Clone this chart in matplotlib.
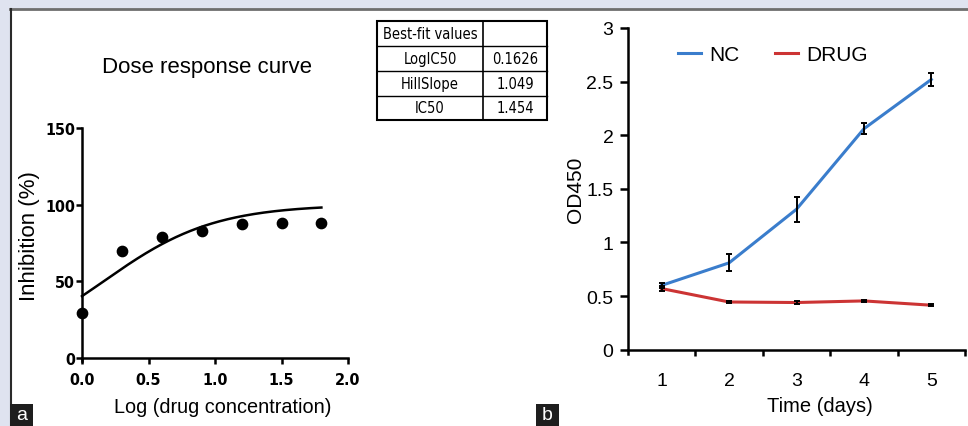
import numpy as np
import matplotlib
matplotlib.use("Agg")
import matplotlib.pyplot as plt
from matplotlib.patches import Rectangle
from matplotlib.lines import Line2D
from matplotlib import font_manager as fm

# ---------------- data ----------------
log_conc = [0.0, 0.3, 0.6, 0.9, 1.2, 1.5, 1.8]
inhibition = [29, 70, 79, 83, 87.5, 87.7, 87.7]
fit_names = ["LogIC50", "HillSlope", "IC50"]
fit_values = ["0.1626", "1.049", "1.454"]
log_ic50 = 0.1626
hill_slope = 1.049
fit_bottom = 0.0
fit_top = 100.0

days = [1, 2, 3, 4, 5]
nc_mean = [0.60, 0.81, 1.31, 2.06, 2.52]
nc_err = [0.02, 0.08, 0.115, 0.05, 0.06]
drug_mean = [0.57, 0.445, 0.44, 0.455, 0.415]
drug_err = [0.02, 0.012, 0.01, 0.01, 0.012]

left_yticks = [0, 50, 100, 150]
left_xticks = [0.0, 0.5, 1.0, 1.5, 2.0]
right_yticks = [0, 0.5, 1, 1.5, 2, 2.5, 3]
right_yticklabels = ["0", "0.5", "1", "1.5", "2", "2.5", "3"]

# ---------------- fonts ----------------
fonts = fm.fontManager.ttflist
names = {f.name for f in fonts}
base = "Liberation Sans" if "Liberation Sans" in names else "DejaVu Sans"
narrow_kw = None
if "Liberation Sans Narrow" in names:
    narrow_kw = dict(fontfamily="Liberation Sans Narrow")
elif any(f.name == "DejaVu Sans" and str(f.stretch) in ("condensed", "semi-condensed", "75", "87")
         for f in fonts):
    narrow_kw = dict(fontfamily="DejaVu Sans", fontstretch="condensed")
plt.rcParams['font.family'] = [base, 'DejaVu Sans']

W, H = 968, 427
fig = plt.figure(figsize=(W / 100, H / 100), dpi=100)
fig.patch.set_facecolor("#dfe3f0")

def fx(px):
    return px / W

def fy(py):
    return (H - py) / H

# white panel with borders
fig.add_artist(Rectangle((fx(10), 0), 1 - fx(10), fy(10), transform=fig.transFigure,
                         facecolor="white", edgecolor="none", zorder=0))
fig.add_artist(Line2D([fx(10), 1], [fy(10), fy(10)], transform=fig.transFigure,
                      color="#6e6e6e", lw=2))
fig.add_artist(Line2D([fx(10.5), fx(10.5)], [0, fy(10)], transform=fig.transFigure,
                      color="#2a2a2a", lw=1.5))

# ---------------- left panel ----------------
ax1 = fig.add_axes([fx(82), fy(362), fx(348) - fx(82), fy(129) - fy(362)])
ax1.set_facecolor("none")
ax1.set_xlim(0, 2.0)
ax1.set_ylim(-2, 150)
ax1.spines['top'].set_visible(False)
ax1.spines['right'].set_visible(False)
ax1.spines['bottom'].set_position(('data', 0))
for s in ('left', 'bottom'):
    ax1.spines[s].set_linewidth(1.8)
    ax1.spines[s].set_color("black")
ax1.set_yticks(left_yticks)
ax1.set_xticks(left_xticks)
ax1.set_xticklabels([f"{v:.1f}" for v in left_xticks])
ax1.tick_params(axis='y', direction='out', length=4, width=1.8, color='black', pad=1)
ax1.tick_params(axis='x', direction='out', length=4, width=1.8, color='black', pad=6)
for lab in ax1.get_xticklabels() + ax1.get_yticklabels():
    lab.set_fontweight('bold')
    if narrow_kw:
        lab.set_fontfamily(narrow_kw["fontfamily"])
        if "fontstretch" in narrow_kw:
            lab.set_fontstretch(narrow_kw["fontstretch"])
        lab.set_fontsize(11.5)
    else:
        lab.set_fontsize(11.5)

xs = np.linspace(0, 1.8, 200)
curve = fit_bottom + (fit_top - fit_bottom) / (1 + 10 ** ((log_ic50 - xs) * hill_slope))
ax1.plot(xs, curve, color='black', lw=1.8, zorder=3, clip_on=False)
ax1.scatter(log_conc, inhibition, s=55, color='black', zorder=4, clip_on=False)

fig.text(fx(30), fy(236), "Inhibition (%)", fontsize=16, ha='center', va='center', rotation=90)
fig.text(fx(207), fy(68), "Dose response curve", fontsize=16, ha='center', va='center')
fig.text(fx(223), fy(408), "Log (drug concentration)", fontsize=14.3, ha='center', va='center')

# table
tx0, tx1, tx2 = 377, 483, 547
row_y = [22, 47, 72, 97, 121]
rows = [("Best-fit values", "")] + list(zip(fit_names, fit_values))
fig.add_artist(Rectangle((fx(tx0), fy(row_y[-1])), fx(tx2) - fx(tx0), fy(row_y[0]) - fy(row_y[-1]),
                         transform=fig.transFigure, facecolor='white', edgecolor='black', lw=1.5))
fig.add_artist(Line2D([fx(tx1), fx(tx1)], [fy(row_y[0]), fy(row_y[-1])], transform=fig.transFigure,
                      color='black', lw=1.2))
for yy in row_y[1:-1]:
    fig.add_artist(Line2D([fx(tx0), fx(tx2)], [fy(yy), fy(yy)], transform=fig.transFigure,
                          color='black', lw=1.0))
tkw = dict(narrow_kw) if narrow_kw else {}
tsize = 10.5 if narrow_kw else 11
for i, (a, b) in enumerate(rows):
    yc = (row_y[i] + row_y[i + 1]) / 2
    fig.text(fx((tx0 + tx1) / 2), fy(yc), a, fontsize=tsize, ha='center', va='center', **tkw)
    if b:
        fig.text(fx((tx1 + tx2) / 2), fy(yc), b, fontsize=tsize, ha='center', va='center', **tkw)

# ---------------- right panel ----------------
ax2 = fig.add_axes([fx(628), fy(355), fx(965) - fx(628), fy(29) - fy(355)])
ax2.set_facecolor("none")
ax2.set_xlim(0.5, 5.5)
ax2.set_ylim(-0.04, 3)
ax2.spines['top'].set_visible(False)
ax2.spines['right'].set_visible(False)
ax2.spines['bottom'].set_position(('data', 0))
for s in ('left', 'bottom'):
    ax2.spines[s].set_linewidth(1.8)
    ax2.spines[s].set_color("black")
ax2.set_yticks(right_yticks)
ax2.set_yticklabels(right_yticklabels)
ax2.set_xticks([1.5, 2.5, 3.5, 4.5, 5.5])
ax2.set_xticklabels([])
ax2.set_xticks(days, minor=True)
ax2.set_xticklabels([str(d) for d in days], minor=True)
ax2.tick_params(axis='x', which='major', direction='out', length=4, width=1.8)
ax2.tick_params(axis='x', which='minor', length=0, pad=16, labelsize=14)
ax2.tick_params(axis='y', direction='out', length=5.5, width=1.8, pad=5, labelsize=14)

ax2.plot(days, nc_mean, color='#3a7dcc', lw=2.2, label='NC', zorder=3)
ax2.plot(days, drug_mean, color='#cc3434', lw=2.2, label='DRUG', zorder=3)
ax2.errorbar(days, nc_mean, yerr=nc_err, fmt='none', ecolor='black', elinewidth=1.4,
             capsize=2.5, capthick=1.4, zorder=4)
ax2.errorbar(days, drug_mean, yerr=drug_err, fmt='none', ecolor='black', elinewidth=1.4,
             capsize=2.5, capthick=1.4, zorder=4)
ax2.legend(loc='upper left', bbox_to_anchor=(0.093, 1.005), ncol=2, frameon=False,
           fontsize=15, handlelength=1.1, handletextpad=0.38, columnspacing=1.73)

fig.text(fx(575), fy(190), "OD450", fontsize=15, ha='center', va='center', rotation=90)
fig.text(fx(820), fy(407), "Time (days)", fontsize=14.5, ha='center', va='center')

# panel letters
for x0, letter in ((10, "a"), (536, "b")):
    fig.add_artist(Rectangle((fx(x0), 0), fx(23), fy(405), transform=fig.transFigure,
                             facecolor='#1e1e1e', edgecolor='none', zorder=5))
    fig.text(fx(x0 + 11.5), fy(416), letter, color='white', fontsize=14, ha='center',
             va='center', zorder=6)

fig.savefig("out.png", dpi=100, facecolor=fig.get_facecolor())
